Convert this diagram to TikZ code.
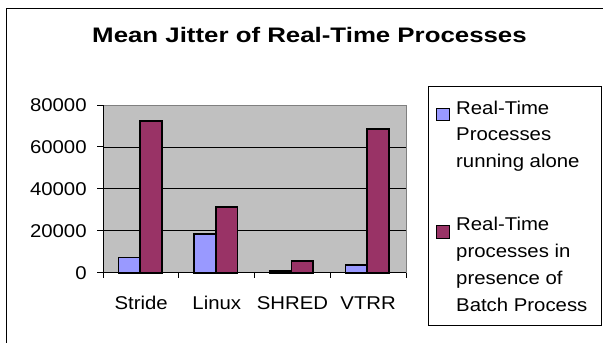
\documentclass[tikz,border=0pt]{standalone}
\usepackage{fontspec}
\setmainfont{Liberation Sans}
\usepackage{graphicx}
\definecolor{rtblue}{HTML}{9999FF}
\definecolor{rtmaroon}{HTML}{993366}
\definecolor{plotgray}{HTML}{C0C0C0}
\definecolor{edgegray}{HTML}{808080}
\newcommand\sxt[1]{\scalebox{1.1}[1]{#1}}
\begin{document}
\begin{tikzpicture}[x=1pt,y=-1pt,
  lab/.style={font=\fontsize{18.5}{22}\selectfont, inner sep=0pt},
  bar/.style={draw=black, line width=1.7pt},
  grid line/.style={black, line width=0.8pt},
  axis line/.style={black, line width=1pt}]
\useasboundingbox (0,0) rectangle (603,343);
\clip (0,0) rectangle (603,343);
\fill[white] (0,0) rectangle (603,343);
\draw[line width=1pt] (6,8.5) rectangle (620,360);
% title
\node[inner sep=0pt, anchor=base, font=\bfseries\fontsize{21}{25}\selectfont] (title) at (309.5,42)
  {\scalebox{1.23}[1]{Mean Jitter of Real-Time Processes}};
% plot
\begin{scope}[shift={(103.3,272.7)}, x=75.675pt, y=2.09625pt]
  \fill[plotgray] (0,0) rectangle (4,80);
  \draw[edgegray, line width=1pt] (0,80) -- (4,80) -- (4,0);
  \foreach \v in {20,40,60} \draw[grid line] (0,\v) -- (4,\v);
  \foreach \v/\t in {0/0,20/20000,40/40000,60/60000,80/80000} {
    \draw[axis line] (0,\v) -- ++(-6pt,0);
    \node[lab, anchor=base east] (y\v) at ([xshift=-16.5pt,yshift=-6.7pt]0,\v) {\sxt{\t}};
  }
  \foreach \i in {0,1,2,3,4} \draw[axis line] (\i,0) -- ++(0,-5.5pt);
  \foreach \i/\b/\m/\name in {0/7.3/72.4/Stride, 1/18.5/31.5/Linux, 2/0.8/5.6/SHRED, 3/3.8/68.5/VTRR} {
    \draw[bar, fill=rtblue] (\i+0.2,0) rectangle (\i+0.485,\b);
    \draw[bar, fill=rtmaroon] (\i+0.485,0) rectangle (\i+0.772,\m);
    \node[lab, anchor=base] (x\i) at ([yshift=-36.8pt]\i+0.5,0) {\sxt{\name}};
  }
  \draw[axis line] (0,80) -- (0,0) -- (4,0);
\end{scope}
% legend
\node[draw=black, line width=0.8pt, fill=white, minimum width=173pt, minimum height=238.5pt, anchor=north west, inner sep=0pt] (legend) at (427.7,86) {};
\draw[black, line width=0.8pt, fill=rtblue] (436.5,108.3) rectangle (449.3,120.7);
\draw[black, line width=0.8pt, fill=rtmaroon] (436.5,225.6) rectangle (449.3,238);
\node[lab, anchor=base west] (l1) at (456,114) {\sxt{Real-Time}};
\node[lab, anchor=base west] (l2) at (456,140.5) {\sxt{Processes}};
\node[lab, anchor=base west] (l3) at (456,167) {\sxt{running alone}};
\node[lab, anchor=base west] (l4) at (456,230.5) {\sxt{Real-Time}};
\node[lab, anchor=base west] (l5) at (456,257.5) {\sxt{processes in}};
\node[lab, anchor=base west] (l6) at (456,284.5) {\sxt{presence of}};
\node[lab, anchor=base west] (l7) at (456,311.5) {\sxt{Batch Process}};
\end{tikzpicture}
\end{document}
